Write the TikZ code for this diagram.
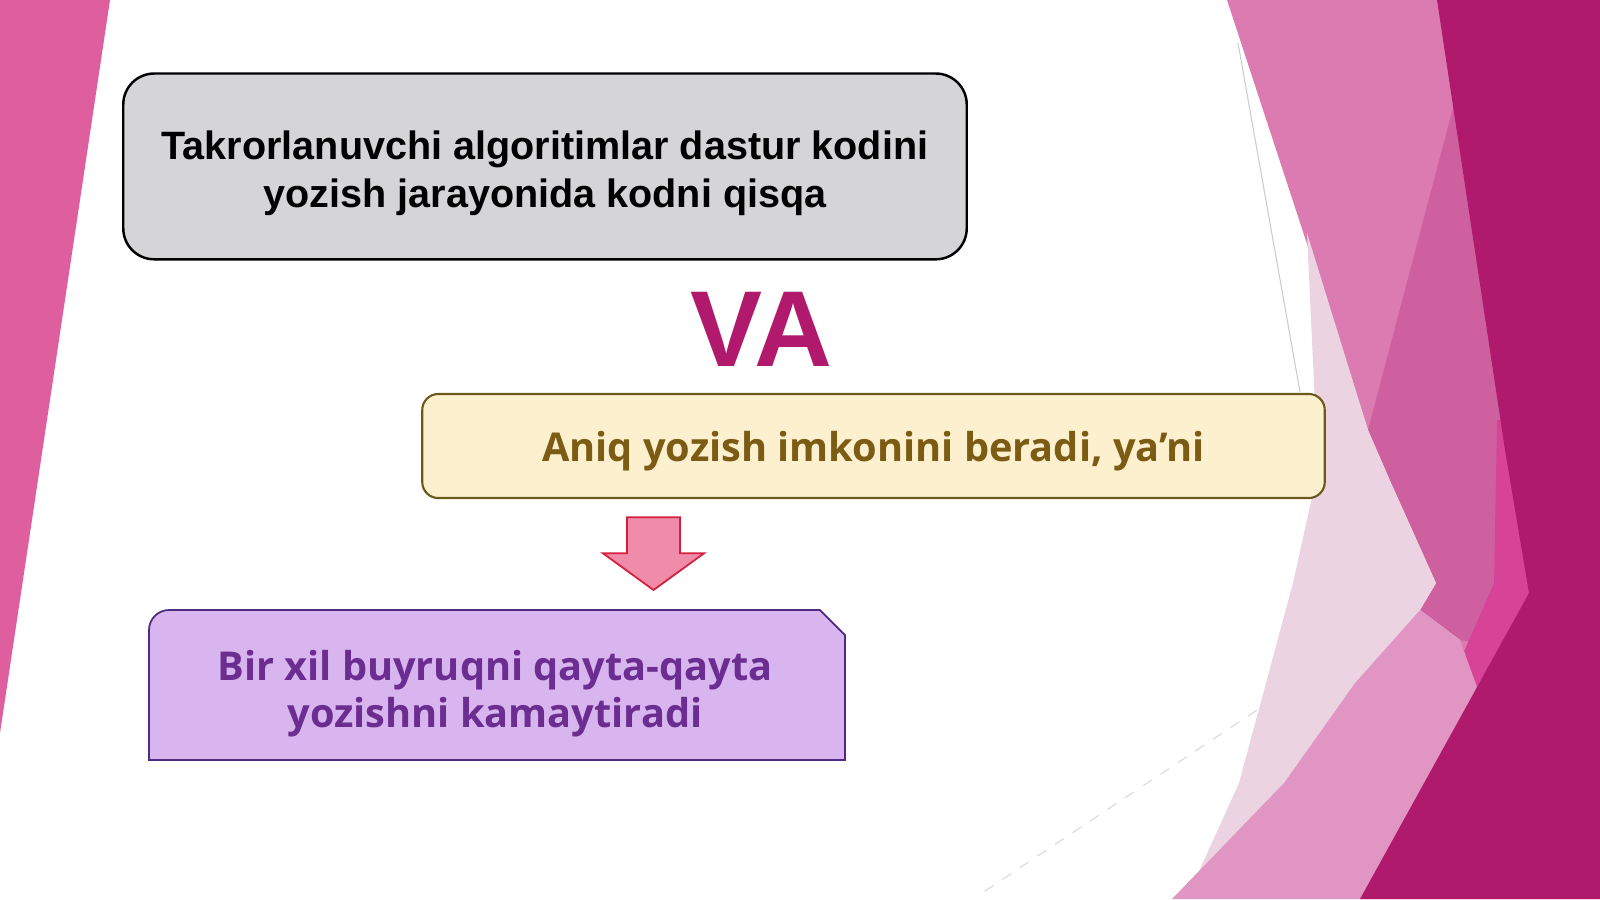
\documentclass[tikz,border=0pt]{standalone}
\usepackage{fontspec}
\setmainfont{Liberation Sans}
\newfontfamily\opensans{Open Sans}
\definecolor{leftpink}{HTML}{DE5E9E}
\definecolor{facetlight}{HTML}{DC7AB2}
\definecolor{facetmid}{HTML}{CF60A0}
\definecolor{facethot}{HTML}{D74497}
\definecolor{facetdark}{HTML}{B01A6C}
\definecolor{facetpale}{HTML}{EBD3E2}
\definecolor{facetrose}{HTML}{E195C3}
\definecolor{boxgray}{HTML}{D5D5D7}
\definecolor{beigefill}{HTML}{FDF0CE}
\definecolor{beigeline}{HTML}{6B5A1A}
\definecolor{beigetext}{HTML}{7C5B14}
\definecolor{lilacfill}{HTML}{D8B5EF}
\definecolor{lilacline}{HTML}{4E2A80}
\definecolor{lilactext}{HTML}{6B2D90}
\definecolor{arrowfill}{HTML}{F08BAA}
\definecolor{arrowline}{HTML}{D41F3E}
\definecolor{vacolor}{HTML}{B0196C}
\begin{document}
\begin{tikzpicture}[x=0.01cm, y=-0.01cm,
  graybox/.style={draw=black, line width=0.7pt, fill=boxgray, rounded corners=0.31cm,
    minimum width=8.43cm, minimum height=1.857cm},
  beigebox/.style={draw=beigeline, line width=0.6pt, fill=beigefill, rounded corners=0.16cm,
    minimum width=9.02cm, minimum height=1.04cm},
  graytext/.style={inner sep=0pt, align=center, font=\fontsize{11.25}{13.8}\selectfont\bfseries},
  sanstext/.style={inner sep=0pt, align=center, font=\opensans\fontsize{11.3}{13.3}\selectfont\bfseries}]
  \fill[white] (0,0) rectangle (1600,899);
  \useasboundingbox (0,0) rectangle (1600,899);
  % background facets
  \fill[leftpink] (0,0) -- (110,0) -- (0,733) -- cycle;
  \fill[facetlight] (1227,0) -- (1600,0) -- (1600,899) -- (1360,899) -- (1460,640) -- (1436,583) -- (1368,430) -- cycle;
  \fill[facetmid] (1455,100) -- (1600,100) -- (1600,660) -- (1460,640) -- (1420,610) -- (1436,583) -- (1391,483) -- (1368,430) -- cycle;
  \fill[facethot] (1497,420) -- (1600,420) -- (1600,720) -- (1478,690) -- (1455,672) -- (1494,583) -- cycle;
  \fill[facetpale] (1307,233) -- (1368,430) -- (1391,483) -- (1436,583) -- (1420,610) -- (1355,683)
    -- (1284,783) -- (1195,880) -- (1239,783) -- (1266,683) -- (1293,583) -- (1318,470) -- cycle;
  \fill[facetrose] (1420,610) -- (1460,640) -- (1478,690) -- (1360,899) -- (1172,899) -- (1284,783) -- (1355,683) -- cycle;
  \fill[facetdark] (1437,0) -- (1600,0) -- (1600,899) -- (1360,899) -- (1529,593) -- (1505,450) -- cycle;
  \draw[black!20, line width=0.3pt] (1238,43) -- (1300,392);
  \draw[black!15, dashed, line width=0.3pt] (1257,710) -- (976,897);
  % boxes
  \node[graybox] (algo) at (545,166.4) {};
  \node[graytext, anchor=north] (algotxt) at (545,130) {Takrorlanuvchi algoritimlar dastur kodini\\yozish jarayonida kodni qisqa};
  \node[text=vacolor, inner sep=0pt, anchor=base, font=\fontsize{30.7}{36}\selectfont\bfseries] (va) at (761,366.7) {VA};
  \node[beigebox] (aniq) at (873.5,446) {};
  \node[sanstext, text=beigetext, anchor=base] (aniqtxt) at (873.5,461.7) {Aniq yozish imkonini beradi, ya’ni};
  \draw[fill=arrowfill, draw=arrowline, line width=0.5pt] (627,517.3) -- (680,517.3) -- (680,553.3) -- (704,553.3)
    -- (653.5,590) -- (603,553.3) -- (627,553.3) -- cycle;
  \draw[fill=lilacfill, draw=lilacline, line width=0.5pt] (149,760) -- (149,630) .. controls (149,619) and (158,610) .. (169,610)
    -- (820,610) -- (845,635) -- (845,760) -- cycle;
  \node[sanstext, text=lilactext, anchor=north] (kamay) at (495,650) {Bir xil buyruqni qayta-qayta\\yozishni kamaytiradi};
\end{tikzpicture}
\end{document}
